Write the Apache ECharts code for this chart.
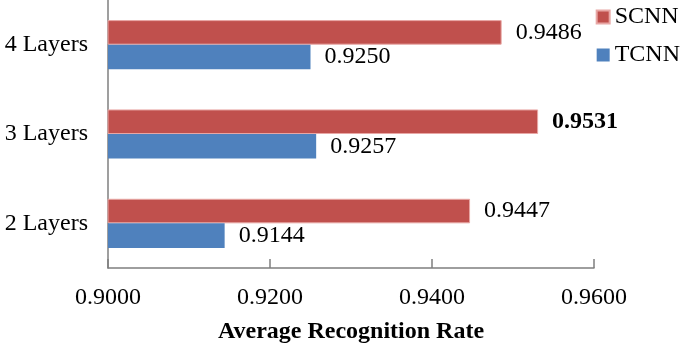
<!DOCTYPE html>
<html>
<head>
<meta charset="utf-8">
<script src="https://cdn.jsdelivr.net/npm/echarts@6/dist/echarts.min.js"></script>
<style>
  html, body { margin: 0; padding: 0; background: #fff; }
  #main { width: 685px; height: 345px; }
</style>
</head>
<body>
<div id="main"></div>
<script>
let categories = ['2 Layers', '3 Layers', '4 Layers'];
let scnnValues = [0.9447, 0.9531, 0.9486];
let tcnnValues = [0.9144, 0.9257, 0.9250];
let xTicks = [0.90, 0.92, 0.94, 0.96];

let chart = echarts.init(document.getElementById('main'), null, { renderer: 'canvas' });
let font = '"Liberation Serif", "Times New Roman", serif';
let bestValue = Math.max.apply(null, scnnValues);

let valueLabel = {
  show: true, position: 'right', distance: 14,
  fontFamily: font, fontSize: 24, color: '#000',
  formatter: function (p) { return p.value.toFixed(4); },
};

let option = {
  animation: false,
  textStyle: { fontFamily: font },
  grid: { left: 108, right: 91, top: 0, bottom: 77, containLabel: false, outerBoundsMode: 'none' },
  legend: {
    data: ['SCNN', 'TCNN'],
    orient: 'vertical',
    right: 0,
    top: 0,
    itemWidth: 13,
    itemHeight: 13,
    itemGap: 14,
    icon: 'rect',
    textStyle: { fontFamily: font, fontSize: 24, color: '#000' },
  },
  xAxis: {
    type: 'value',
    position: 'bottom',
    min: xTicks[0],
    max: xTicks[xTicks.length - 1],
    interval: 0.02,
    name: 'Average Recognition Rate',
    nameLocation: 'middle',
    nameGap: 52,
    nameTextStyle: { fontFamily: font, fontSize: 24, fontWeight: 'bold', color: '#000' },
    axisLine: { show: true, onZero: false, lineStyle: { color: '#7f7f7f', width: 1.5 } },
    axisTick: { show: true, inside: true, length: 9, lineStyle: { color: '#7f7f7f', width: 1.5 } },
    splitLine: { show: false },
    axisLabel: {
      fontFamily: font, fontSize: 24, color: '#000', margin: 18,
      formatter: function (v) { return v.toFixed(4); },
    },
  },
  yAxis: {
    type: 'category',
    data: categories,
    axisLine: { show: true, onZero: false, lineStyle: { color: '#7f7f7f', width: 1.5 } },
    axisTick: { show: false },
    axisLabel: { fontFamily: font, fontSize: 24, color: '#000', margin: 20 },
  },
  series: [
    {
      name: 'SCNN',
      type: 'bar',
      data: scnnValues.map(function (v) {
        if (v === bestValue) {
          return { value: v, label: { fontWeight: 'bold' } };
        }
        return v;
      }),
      barGap: '0%',
      barCategoryGap: '45%',
      itemStyle: { color: '#c0504d', borderColor: '#e8a7a5', borderWidth: 1 },
      label: valueLabel,
    },
    {
      name: 'TCNN',
      type: 'bar',
      data: tcnnValues,
      barGap: '0%',
      barCategoryGap: '45%',
      itemStyle: { color: '#4f81bd' },
      label: valueLabel,
    },
  ],
};

chart.setOption(option);
window.addEventListener('resize', chart.resize);
</script>
</body>
</html>
